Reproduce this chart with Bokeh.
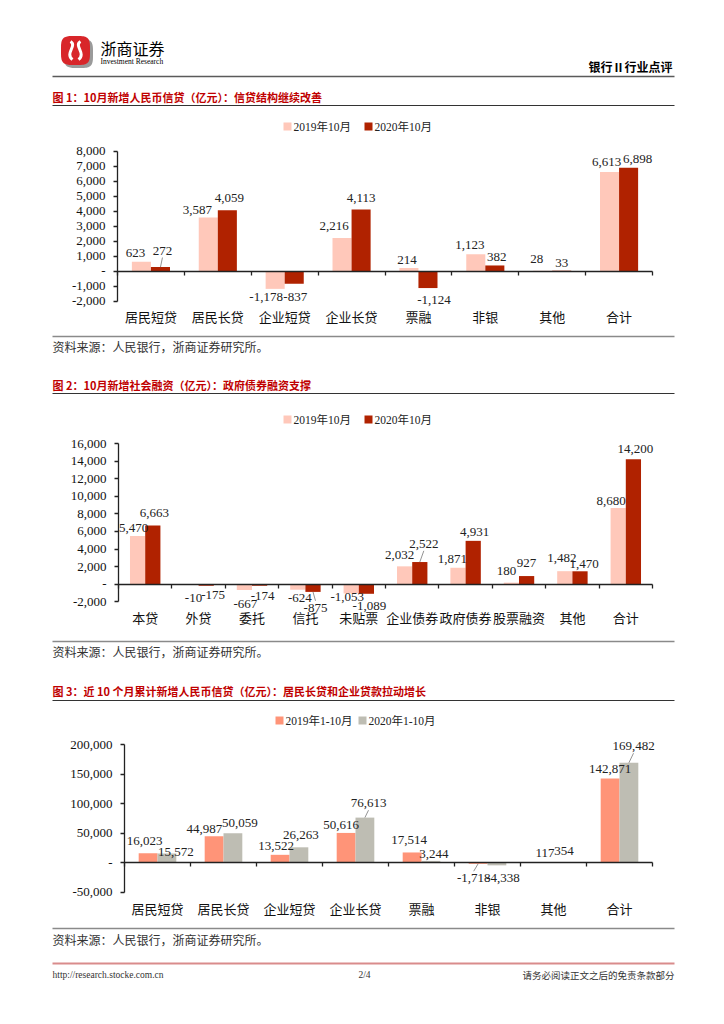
import numpy as np
from bokeh.plotting import figure
from bokeh.models import Range1d, LinearAxis, FixedTicker, NumeralTickFormatter, LabelSet, ColumnDataSource
from bokeh.core.properties import value
from bokeh.embed import file_html
from bokeh.resources import INLINE

# ---------------- data ----------------
cats_loans = ["居民短贷", "居民长贷", "企业短贷", "企业长贷", "票融", "非银", "其他", "合计"]
loans_oct2019 = [623, 3587, -1178, 2216, 214, 1123, 28, 6613]
loans_oct2020 = [272, 4059, -837, 4113, -1124, 382, 33, 6898]

cats_tsf = ["本贷", "外贷", "委托", "信托", "未贴票", "企业债券", "政府债券", "股票融资", "其他", "合计"]
tsf_oct2019 = [5470, -10, -667, -624, -1053, 2032, 1871, 180, 1482, 8680]
tsf_oct2020 = [6663, -175, -174, -875, -1089, 2522, 4931, 927, 1470, 14200]

cats_ytd = ["居民短贷", "居民长贷", "企业短贷", "企业长贷", "票融", "非银", "其他", "合计"]
ytd_2019 = [16023, 44987, 13522, 50616, 17514, -1718, 117, 142871]
ytd_2020 = [15572, 50059, 26263, 76613, 3244, -4338, 354, 169482]

series_oct = ["2019年10月", "2020年10月"]
series_ytd = ["2019年1-10月", "2020年1-10月"]

ticks_loans = [-2000, -1000, 0, 1000, 2000, 3000, 4000, 5000, 6000, 7000, 8000]
ticks_tsf = [-2000, 0, 2000, 4000, 6000, 8000, 10000, 12000, 14000, 16000]
ticks_ytd = [-50000, 0, 50000, 100000, 150000, 200000]

titles = [
    "图 1：10月新增人民币信贷（亿元）：信贷结构继续改善",
    "图 2：10月新增社会融资（亿元）：政府债券融资支撑",
    "图 3：近 10 个月累计新增人民币信贷（亿元）：居民长贷和企业贷款拉动增长",
]
source_text = "资料来源：人民银行，浙商证券研究所。"

# ---------------- label nudges (px): horizontal shift, distance from bar end ----------------
nudge_loans = (([-6, -11, -9, -8, -2, -6, -6, -3], [8.4, 6.9, 8.3, 11.8, 7.8, 9.2, 11.3, 10.5]),
               ([2, 2, 1, 0, 6, 2, 0, 9], [16.6, 12.5, 13.4, 11.7, 11.7, 8, 8.2, 8.5]))
nudge_tsf = (([-4, 2.5, 1, 2, -4, -5, -5.5, -5, -3, -7], [8, 13.5, 13.7, 8, 3.7, 11.5, 9.2, 11.8, 13.4, 7.3]),
             ([1.5, 7, 3, 2.5, 3, 4, 1.5, 0, 4, 2], [13.1, 8.8, 10.1, 15.9, 12.7, 18.2, 9.3, 13.5, 6.8, 10.4]))
nudge_ytd = (([-3.4, -9.6, -4, -5, -3, -4.4, 1, 0], [12.1, 6.8, 8.6, 8.4, 12, 14.4, 9.9, 9.7]),
             ([9, 7, 2, 3.6, 3, 6, 1, 4.6], [2.1, 10.1, 12.5, 14.4, 6.4, 12.8, 11.8, 16.6]))

# ---------------- style ----------------
SERIF = "Liberation Serif"
CJK = "Noto Sans CJK SC"
MIXED = "Liberation Serif, Noto Sans CJK SC"
C_OCT = ["#FFC8BA", "#B02200"]
C_YTD = ["#FF9478", "#BEBDB3"]
TITLE_RED = "#C00000"
AXIS = "#222222"
CW, CH = 708, 1008

# one page-sized canvas; default ranges are canvas pixels (y downwards)
p = figure(width=CW, height=CH, x_range=Range1d(0, CW), y_range=Range1d(CH, 0),
           min_border=0, x_axis_type=None, y_axis_type=None, title=None,
           output_backend="svg", toolbar_location=None)
p.outline_line_color = None


def txt(x, y, s, size, font=CJK, color="#000000", align="left", style="normal"):
    p.text(x=[x], y=[y], text=[s], text_font=value(font), text_font_size=value(f"{size}px"),
           text_color=color, text_align=align, text_baseline="middle", text_font_style=style)


def hline(y, color, w, x0=52, x1=674):
    p.line(x=[x0, x1], y=[y, y], line_color=color, line_width=w)


def legend(y, names, colors, xs):
    for name, col, x in zip(names, colors, xs):
        p.rect(x=[x], y=[y], width=8, height=8, fill_color=col, line_color=None)
        txt(x + 6, y, name, 11.5, font=MIXED, color="#222222")


xr_all, yr_all = {}, {}


def chart(key, fl, fr, ft, fb, cats, a, b, colors, ticks, standoff, nudges):
    n = len(cats)
    ymin, ymax = ticks[0], ticks[-1]
    cw = (fr - fl) / n
    per = (ymax - ymin) / (fb - ft)
    xr_all[key] = Range1d(0 - fl / cw, n + (CW - fr) / cw)
    yr_all[key] = Range1d(ymin - (CH - fb) * per, ymax + ft * per)
    rk = dict(x_range_name=key, y_range_name=key)

    bw = 0.285
    centers = np.arange(n) + 0.5
    offs = (-bw / 2, bw / 2)
    for vals, off, col in zip((a, b), offs, colors):
        p.vbar(x=centers + off, top=vals, bottom=0, width=bw, fill_color=col, line_color=None, **rk)

    ya = LinearAxis(fixed_location=0, bounds=(ymin, ymax), ticker=FixedTicker(ticks=ticks),
                    formatter=NumeralTickFormatter(format="0,0"), major_label_overrides={0: "-"}, **rk)
    ya.axis_line_color = AXIS
    ya.axis_line_width = 1.3
    ya.major_tick_line_color = AXIS
    ya.major_tick_line_width = 1.3
    ya.major_tick_out = 4
    ya.major_tick_in = 0
    ya.minor_tick_line_color = None
    ya.major_label_standoff = 8
    ya.major_label_text_font = SERIF
    ya.major_label_text_font_size = "13px"
    ya.major_label_text_color = "#111111"
    p.add_layout(ya, "left")

    xa = LinearAxis(fixed_location=0, bounds=(0, n),
                    ticker=FixedTicker(ticks=[float(c) for c in centers],
                                       minor_ticks=[float(i) for i in range(n + 1)]),
                    major_label_overrides={float(c): name for c, name in zip(centers, cats)}, **rk)
    xa.axis_line_color = AXIS
    xa.axis_line_width = 1.3
    xa.major_tick_line_color = None
    xa.major_tick_out = 0
    xa.major_tick_in = 0
    xa.minor_tick_line_color = AXIS
    xa.minor_tick_line_width = 1.3
    xa.minor_tick_out = 4
    xa.minor_tick_in = 0
    xa.major_label_standoff = standoff
    xa.major_label_text_font = CJK
    xa.major_label_text_font_size = "13px"
    xa.major_label_text_color = "#111111"
    p.add_layout(xa, "below")

    for vals, off, (dxs, dys) in zip((a, b), offs, nudges):
        bx = centers + off
        lx = [x + dx / cw for x, dx in zip(bx, dxs)]
        ly = [v + (dy if v >= 0 else -dy) * per for v, dy in zip(vals, dys)]
        src = ColumnDataSource(dict(x=lx, y=ly, t=[f"{v:,}" for v in vals]))
        p.add_layout(LabelSet(x="x", y="y", text="t", source=src, text_align="center",
                              text_baseline="middle", text_font=value(SERIF),
                              text_font_size="13px", text_color="#222222", **rk))
        # leader lines for labels lifted well away from their bar
        for x, v, x2, y2, dy in zip(bx, vals, lx, ly, dys):
            if dy >= 14:
                sgn = 1 if v >= 0 else -1
                p.segment(x0=[x], y0=[v], x1=[x2], y1=[y2 - sgn * 7 * per],
                          line_color="#777777", line_width=0.8, **rk)


# ---------------- header ----------------
def rounded(cx, cy, r, k=80):
    t = np.linspace(0, 2 * np.pi, k)
    c, s = np.cos(t), np.sin(t)
    return cx + r * np.sign(c) * np.abs(c) ** 0.5, cy + r * np.sign(s) * np.abs(s) ** 0.5


gx, gy = rounded(78, 53, 14.5)
p.patch(gx, gy, fill_color="#9A9A9A", line_color=None)
rx, ry = rounded(75, 50, 14.5)
p.patch(rx, ry, fill_color="#D8262A", line_color=None)
p.bezier(x0=[70, 80], y0=[41, 41], x1=[72, 78], y1=[59, 59], cx0=[77, 73], cy0=[45, 45],
         cx1=[64, 86], cy1=[53, 53], line_color="white", line_width=3)
txt(100, 47, "浙商证券", 16)
txt(100, 61, "Investment Research", 7.5, font=SERIF)
txt(672, 66, "银行Ⅱ行业点评", 12, align="right", style="bold")
hline(76, "#5A5A5A", 1.6)

# ---------------- chart 1 ----------------
txt(52, 96, titles[0], 11, color=TITLE_RED, style="bold")
hline(105, "#333333", 1)
legend(126, series_oct, C_OCT, [287, 368])
chart("c1", 117, 652, 150.7, 300.7, cats_loans, loans_oct2019, loans_oct2020, C_OCT, ticks_loans, 32, nudge_loans)
hline(336, "#8A8A8A", 1.5)
txt(52, 346, source_text, 12, color="#333333")

# ---------------- chart 2 ----------------
txt(52, 384, titles[1], 11, color=TITLE_RED, style="bold")
hline(393, "#333333", 1)
legend(419, series_oct, C_OCT, [287, 368])
chart("c2", 118, 652, 443, 601.3, cats_tsf, tsf_oct2019, tsf_oct2020, C_OCT, ticks_tsf, 20, nudge_tsf)
hline(641, "#8A8A8A", 1.5)
txt(52, 651, source_text, 12, color="#333333")

# ---------------- chart 3 ----------------
txt(52, 690, titles[2], 11, color=TITLE_RED, style="bold")
hline(700, "#333333", 1)
legend(720, series_ytd, C_YTD, [279, 362])
chart("c3", 124, 652, 744.3, 891.8, cats_ytd, ytd_2019, ytd_2020, C_YTD, ticks_ytd, 32, nudge_ytd)
hline(928, "#8A8A8A", 1.5)
txt(52, 939, source_text, 12, color="#333333")

# ---------------- footer ----------------
hline(963, "#D98C8C", 2)
txt(52, 974, "http://research.stocke.com.cn", 9.5, font=SERIF, color="#333333")
txt(364, 974, "2/4", 9.5, font=SERIF, color="#333333", align="center")
txt(674, 974, "请务必阅读正文之后的免责条款部分", 9.5, color="#333333", align="right")

p.extra_x_ranges = xr_all
p.extra_y_ranges = yr_all

open("out.html", "w").write(file_html(p, INLINE))
